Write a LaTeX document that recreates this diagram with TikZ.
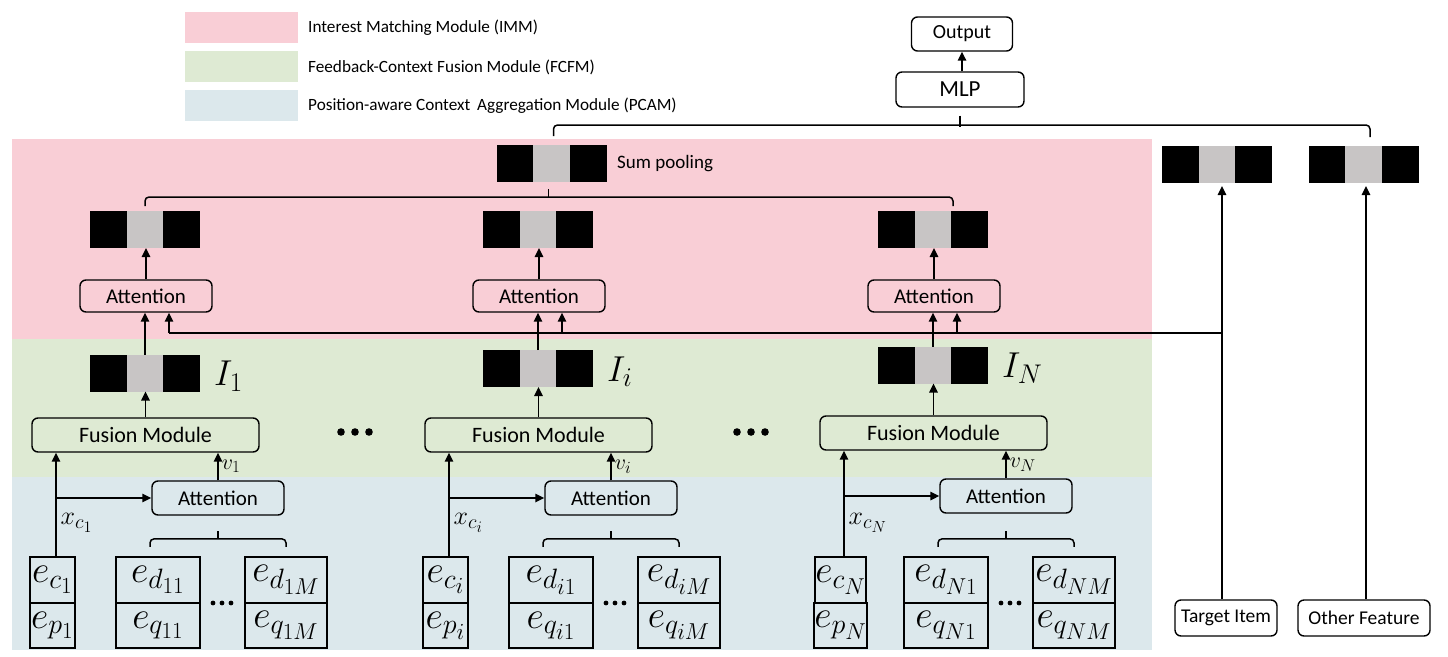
\RequirePackage{fix-cm}
\documentclass[tikz,border=0pt]{standalone}
\usepackage{fontspec}
\setmainfont{Carlito}
\usetikzlibrary{arrows.meta,calc}
\DeclareMathSizes{38}{38}{28}{23}
\DeclareMathSizes{36}{36}{27}{21}
\DeclareMathSizes{26}{26}{20}{16}
\DeclareMathSizes{22}{22}{17}{13}
\definecolor{pinkbg}{RGB}{249,206,214}
\definecolor{greenbg}{RGB}{222,234,211}
\definecolor{bluebg}{RGB}{220,232,236}
\definecolor{cellgray}{RGB}{200,197,197}
\tikzset{
  rbox/.style={draw=black, line width=1.4pt, rounded corners=6pt, inner sep=0pt, align=center},
  vecbox/.style={minimum width=110pt, minimum height=37pt, inner sep=0pt, outer sep=0pt},
  ebox/.style={draw=black, line width=2.2pt, inner sep=0pt, font=\fontsize{38}{38}\selectfont},
  arr/.style={line width=1.5pt, -{Triangle[length=9pt,width=8.5pt]}},
  conn/.style={line width=1.5pt},
  brk/.style={line width=1.5pt, rounded corners=4pt},
  lbl/.style={font=\fontsize{17.2}{17.2}\selectfont, anchor=west, inner sep=0pt},
}
\newcommand{\featvec}[3]{%
  \node[vecbox] (#1) at (#2,#3) {};
  \fill[black] (#1.south west) rectangle (#1.north east);
  \fill[cellgray] ($(#1.south west)!1/3!(#1.south east)$) rectangle ($(#1.north west)!2/3!(#1.north east)$);
}
\begin{document}
\begin{tikzpicture}[x=1pt,y=-1pt]
\useasboundingbox (0,0) rectangle (1448,656);
% legend
\fill[pinkbg] (185,12) rectangle (298,43);
\fill[greenbg] (185,51) rectangle (298,82);
\fill[bluebg] (185,90) rectangle (298,121);
\node[lbl] (leg1) at (308,27.5) {Interest Matching Module (IMM)};
\node[lbl] (leg2) at (308,67) {Feedback-Context Fusion Module (FCFM)};
\node[lbl] (leg3) at (308,106) {Position-aware Context\hspace{3pt} Aggregation Module (PCAM)};
% bands
\fill[pinkbg] (12,139) rectangle (1152,339);
\fill[greenbg] (12,339) rectangle (1152,477);
\fill[bluebg] (12,477) rectangle (1152,650);
% top
\node[rbox, minimum width=101pt, minimum height=34pt, font=\fontsize{20}{20}\selectfont] (OUT) at (962,34) {Output};
\node[rbox, minimum width=128pt, minimum height=35pt, font=\fontsize{23}{23}\selectfont] (MLP) at (960,89.5) {MLP};
\draw[arr] (MLP.north -| OUT.south) -- (OUT.south);
\featvec{SP}{551.5}{163.5}
\node[anchor=west, inner sep=0pt, font=\fontsize{19}{19}\selectfont] (SPL) at (617,164) {Sum pooling};
\featvec{TV}{1217}{164.5}
\featvec{OV}{1363.5}{164.5}
\node[rbox, minimum width=102pt, minimum height=36pt, font=\fontsize{19.5}{19.5}\selectfont] (TI) at (1226,618) {Target Item};
\node[rbox, minimum width=132pt, minimum height=36pt, font=\fontsize{19.5}{19.5}\selectfont] (OF) at (1364,618) {Other Feature};
\coordinate (HL) at (1222,333);
\draw[arr, shorten >=3pt] ([xshift=-4pt]TI.north) -- ([xshift=-4pt]TI.north |- TV.south);
\draw[arr, shorten >=3pt] ([xshift=2pt]OF.north) -- ([xshift=2pt]OF.north |- OV.south);
% top bracket
\draw[brk] ($(SP.north)+(2,-9)$) |- ($(OV.north)+(6.5,-21)$) -- ($(OV.north)+(6.5,-9)$);
\draw[conn] ($(MLP.south)+(0,8)$) -- ($(MLP.south)+(0,19)$);
% columns
\foreach \k/\dx/\dyI/\dyG/\s in {1/0/0/0/1, 2/393/-4.5/0/i, 3/788/-8/-2/N}{
  \featvec{P\k}{145+\dx}{229.5}
  \node[rbox, fill=pinkbg, minimum width=132pt, minimum height=32pt, font=\fontsize{21}{21}\selectfont] (A\k) at (146+\dx,296) {Attention};
  \featvec{I\k}{145+\dx}{373+\dyI}
  \node[anchor=west, inner sep=0pt, font=\fontsize{36}{36}\selectfont] (IL\k) at ($(I\k.east)+(14,3)$) {$I_{\s}$};
  \node[rbox, fill=greenbg, minimum width=227pt, minimum height=34pt, font=\fontsize{22}{22}\selectfont] (F\k) at (145.5+\dx,435+\dyG) {Fusion Module};
  \node[rbox, fill=bluebg, minimum width=132pt, minimum height=34pt, font=\fontsize{21}{21}\selectfont] (B\k) at (218+\dx,498+\dyG) {Attention};
  \node[ebox, minimum width=45pt, minimum height=46pt] (EC\k) at (52.5+\dx,580) {$e_{c_{\s}}$};
  \node[ebox, minimum width=45pt, minimum height=45pt] (EP\k) at (52.5+\dx,625.5) {$e_{p_{\s}}$};
  \node[ebox, minimum width=84pt, minimum height=46pt] (ED\k) at (158+\dx,580) {$e_{d_{\s 1}}$};
  \node[ebox, minimum width=84pt, minimum height=45pt] (EQ\k) at (158+\dx,625.5) {$e_{q_{\s 1}}$};
  \node[ebox, minimum width=82pt, minimum height=46pt] (EDM\k) at (286+\dx,580) {$e_{d_{\s M}}$};
  \node[ebox, minimum width=82pt, minimum height=45pt] (EQM\k) at (286+\dx,625.5) {$e_{q_{\s M}}$};
  \foreach \xx in {213,222,231}{\fill (\xx+\dx,603) circle (2.4);}
  % connectors
  \draw[arr] (F\k.north) -- (F\k.north |- I\k.south);
  \draw[arr] (I\k.north) -- (I\k.north |- A\k.south);
  \draw[arr] (A\k.north) -- (A\k.north |- P\k.south);
  \draw[arr] ([xshift=23pt]A\k.south |- HL) -- ([xshift=23pt]A\k.south);
  \draw[arr] ([xshift=3.5pt]EC\k.north) -- ([xshift=3.5pt]EC\k.north |- F\k.south);
  \draw[arr] ([xshift=3.5pt]EC\k.north |- B\k.west) -- (B\k.west);
  \node[anchor=west, inner sep=0pt, font=\fontsize{26}{26}\selectfont] (XL\k) at ($(EC\k.north)+(8,-33)$) {$x_{c_{\s}}$};
  \draw[arr] (B\k.north) -- (B\k.north |- F\k.south) node[midway, right, inner sep=3pt, font=\fontsize{22}{22}\selectfont] {$v_{\s}$};
  \draw[brk] ($(ED\k.north)+(-8,-9)$) |- ($(EDM\k.north)+(0,-17)$) -- ($(EDM\k.north)+(0,-9)$);
  \draw[conn] ($(B\k.south |- ED\k.north)+(0,-17)$) -- ($(B\k.south |- ED\k.north)+(0,-25)$);
}
\draw[conn] ([xshift=23pt]A1.south |- HL) -- (HL);
% sum pooling bracket
\draw[brk] ($(P1.north)+(0,-5)$) |- ($(P3.north)+(20,-14)$) -- ($(P3.north)+(20,-5)$);
\draw[conn] ($(SP.south)+(-3,7)$) -- ($(SP.south)+(-3,15)$);
% big dots
\foreach \xx in {341,355,369,737,751,765}{\fill (\xx,432) circle (3.8);}
\end{tikzpicture}
\end{document}
